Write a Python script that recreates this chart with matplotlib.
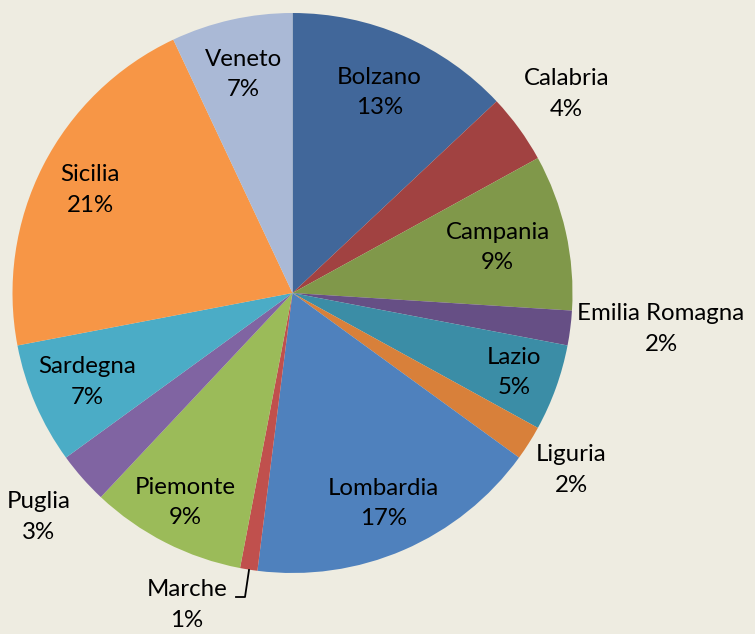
import numpy as np
import matplotlib
matplotlib.use("Agg")
import matplotlib.pyplot as plt

# Slice data (clockwise from 12 o'clock)
regions = ['Bolzano', 'Calabria', 'Campania', 'Emilia Romagna', 'Lazio', 'Liguria',
           'Lombardia', 'Marche', 'Piemonte', 'Puglia', 'Sardegna', 'Sicilia', 'Veneto']
shares = [13, 4, 9, 2, 5, 2, 17, 1, 9, 3, 7, 21, 7]
colors = ['#41679A', '#A14241', '#80984A', '#664F85', '#3B8DA6', '#D8803A',
          '#4F81BD', '#C0504D', '#9BBB59', '#8064A2', '#4BACC6', '#F79646', '#AAB9D6']

# where each label sits, as a fraction of the radius (outside labels > 1)
label_r = [0.78, 1.21, 0.75, 1.30, 0.84, 1.18, 0.82, 1.0, 0.84, 1.21, 0.80, 0.81, 0.80]

plt.rcParams['font.family'] = ['Lato', 'DejaVu Sans']

W, H = 755, 634
cx, cy, R = 292.5, 293, 280
fig = plt.figure(figsize=(W / 100, H / 100), dpi=100)
fig.patch.set_facecolor('#EEECE1')
ax = fig.add_axes([0, 0, 1, 1])
ax.set_facecolor('#EEECE1')

ax.pie(shares, colors=colors, startangle=90, counterclock=False, radius=1,
       center=(0, 0), wedgeprops=dict(linewidth=0), frame=True)
ax.set_xlim(-cx / R, (W - cx) / R)
ax.set_ylim(-(H - cy) / R, cy / R)
ax.set_aspect('auto')
ax.axis('off')

total = float(sum(shares))
cum = np.cumsum([0] + shares)
for i, name in enumerate(regions):
    mid = (cum[i] + shares[i] / 2) / total * 2 * np.pi
    x = label_r[i] * np.sin(mid)
    y = label_r[i] * np.cos(mid)
    if name == 'Emilia Romagna':
        x, y = (661 - cx) / R, (cy - 329) / R
    if name == 'Marche':
        x, y = (187 - cx) / R, (cy - 605) / R
        # leader line
        px = [(249 - cx) / R, (245 - cx) / R, (236 - cx) / R]
        py = [(cy - 570) / R, (cy - 597) / R, (cy - 597) / R]
        ax.plot(px, py, color='black', lw=1.3)
    ax.text(x, y, '%s\n%d%%' % (name, shares[i]), ha='center', va='center',
            fontsize=17.3, color='black', linespacing=1.55)

fig.savefig('out.png', dpi=100, facecolor=fig.get_facecolor())
